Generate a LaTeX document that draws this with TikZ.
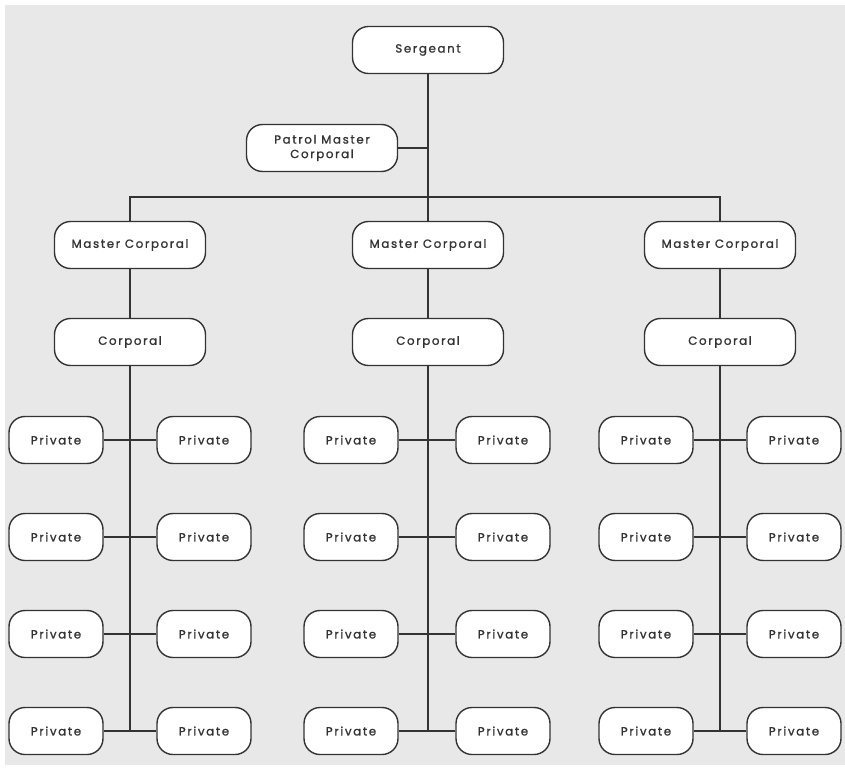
\documentclass[tikz,border=0pt]{standalone}
\usepackage{fontspec}
\setmainfont{Poppins}[LetterSpace=14,FakeBold=1.2]
\definecolor{bg}{HTML}{E8E8E8}
\definecolor{ln}{HTML}{333333}
\definecolor{tx}{HTML}{333333}
\begin{document}
\begin{tikzpicture}[x=1pt,y=-1pt,
  box/.style={draw=ln,line width=1.4pt,fill=white,rounded corners=16pt,
    minimum width=151pt,minimum height=47pt,inner sep=0pt,align=center,
    font=\fontsize{11.8}{14.5}\selectfont,text=tx},
  priv/.style={box,minimum width=94pt},
  conn/.style={draw=ln,line width=1.2pt}]
\useasboundingbox (0,0) rectangle (845,775);
\fill[bg] (5,5) rectangle (845,765);
% nodes
\node[box] (sgt) at (428,50) {Sergeant};
\node[box] (pmc) at (322,148) {Patrol Master\\Corporal};
\node[box] (mc1) at (130,245) {Master Corporal};
\node[box] (mc2) at (428,245) {Master Corporal};
\node[box] (mc3) at (720,245) {Master Corporal};
\node[box] (cp1) at (130,342) {Corporal};
\node[box] (cp2) at (428,342) {Corporal};
\node[box] (cp3) at (720,342) {Corporal};
\coordinate (bus) at (428,197);
\coordinate (pj) at (428,148);
% connectors top
\draw[conn] (sgt.south) -- (mc2.north);
\draw[conn] (pmc.east) -- (pj);
\draw[conn] (mc1.north) |- (bus) -| (mc3.north);
\draw[conn] (mc1) -- (cp1);
\draw[conn] (mc2) -- (cp2);
\draw[conn] (mc3) -- (cp3);
% privates
\foreach \c/\x/\l/\r in {1/130/56/204, 2/428/351/503, 3/720/646/794}{
  \foreach \i/\y in {1/440,2/537,3/634,4/731}{
    \coordinate (j\c\i) at (\x,\y);
    \node[priv] (pl\c\i) at (\l,\y) {Private};
    \node[priv] (pr\c\i) at (\r,\y) {Private};
    \draw[conn] (pl\c\i.east) -- (j\c\i) -- (pr\c\i.west);
  }
  \draw[conn] (cp\c.south) -- (j\c4);
}
\end{tikzpicture}
\end{document}
